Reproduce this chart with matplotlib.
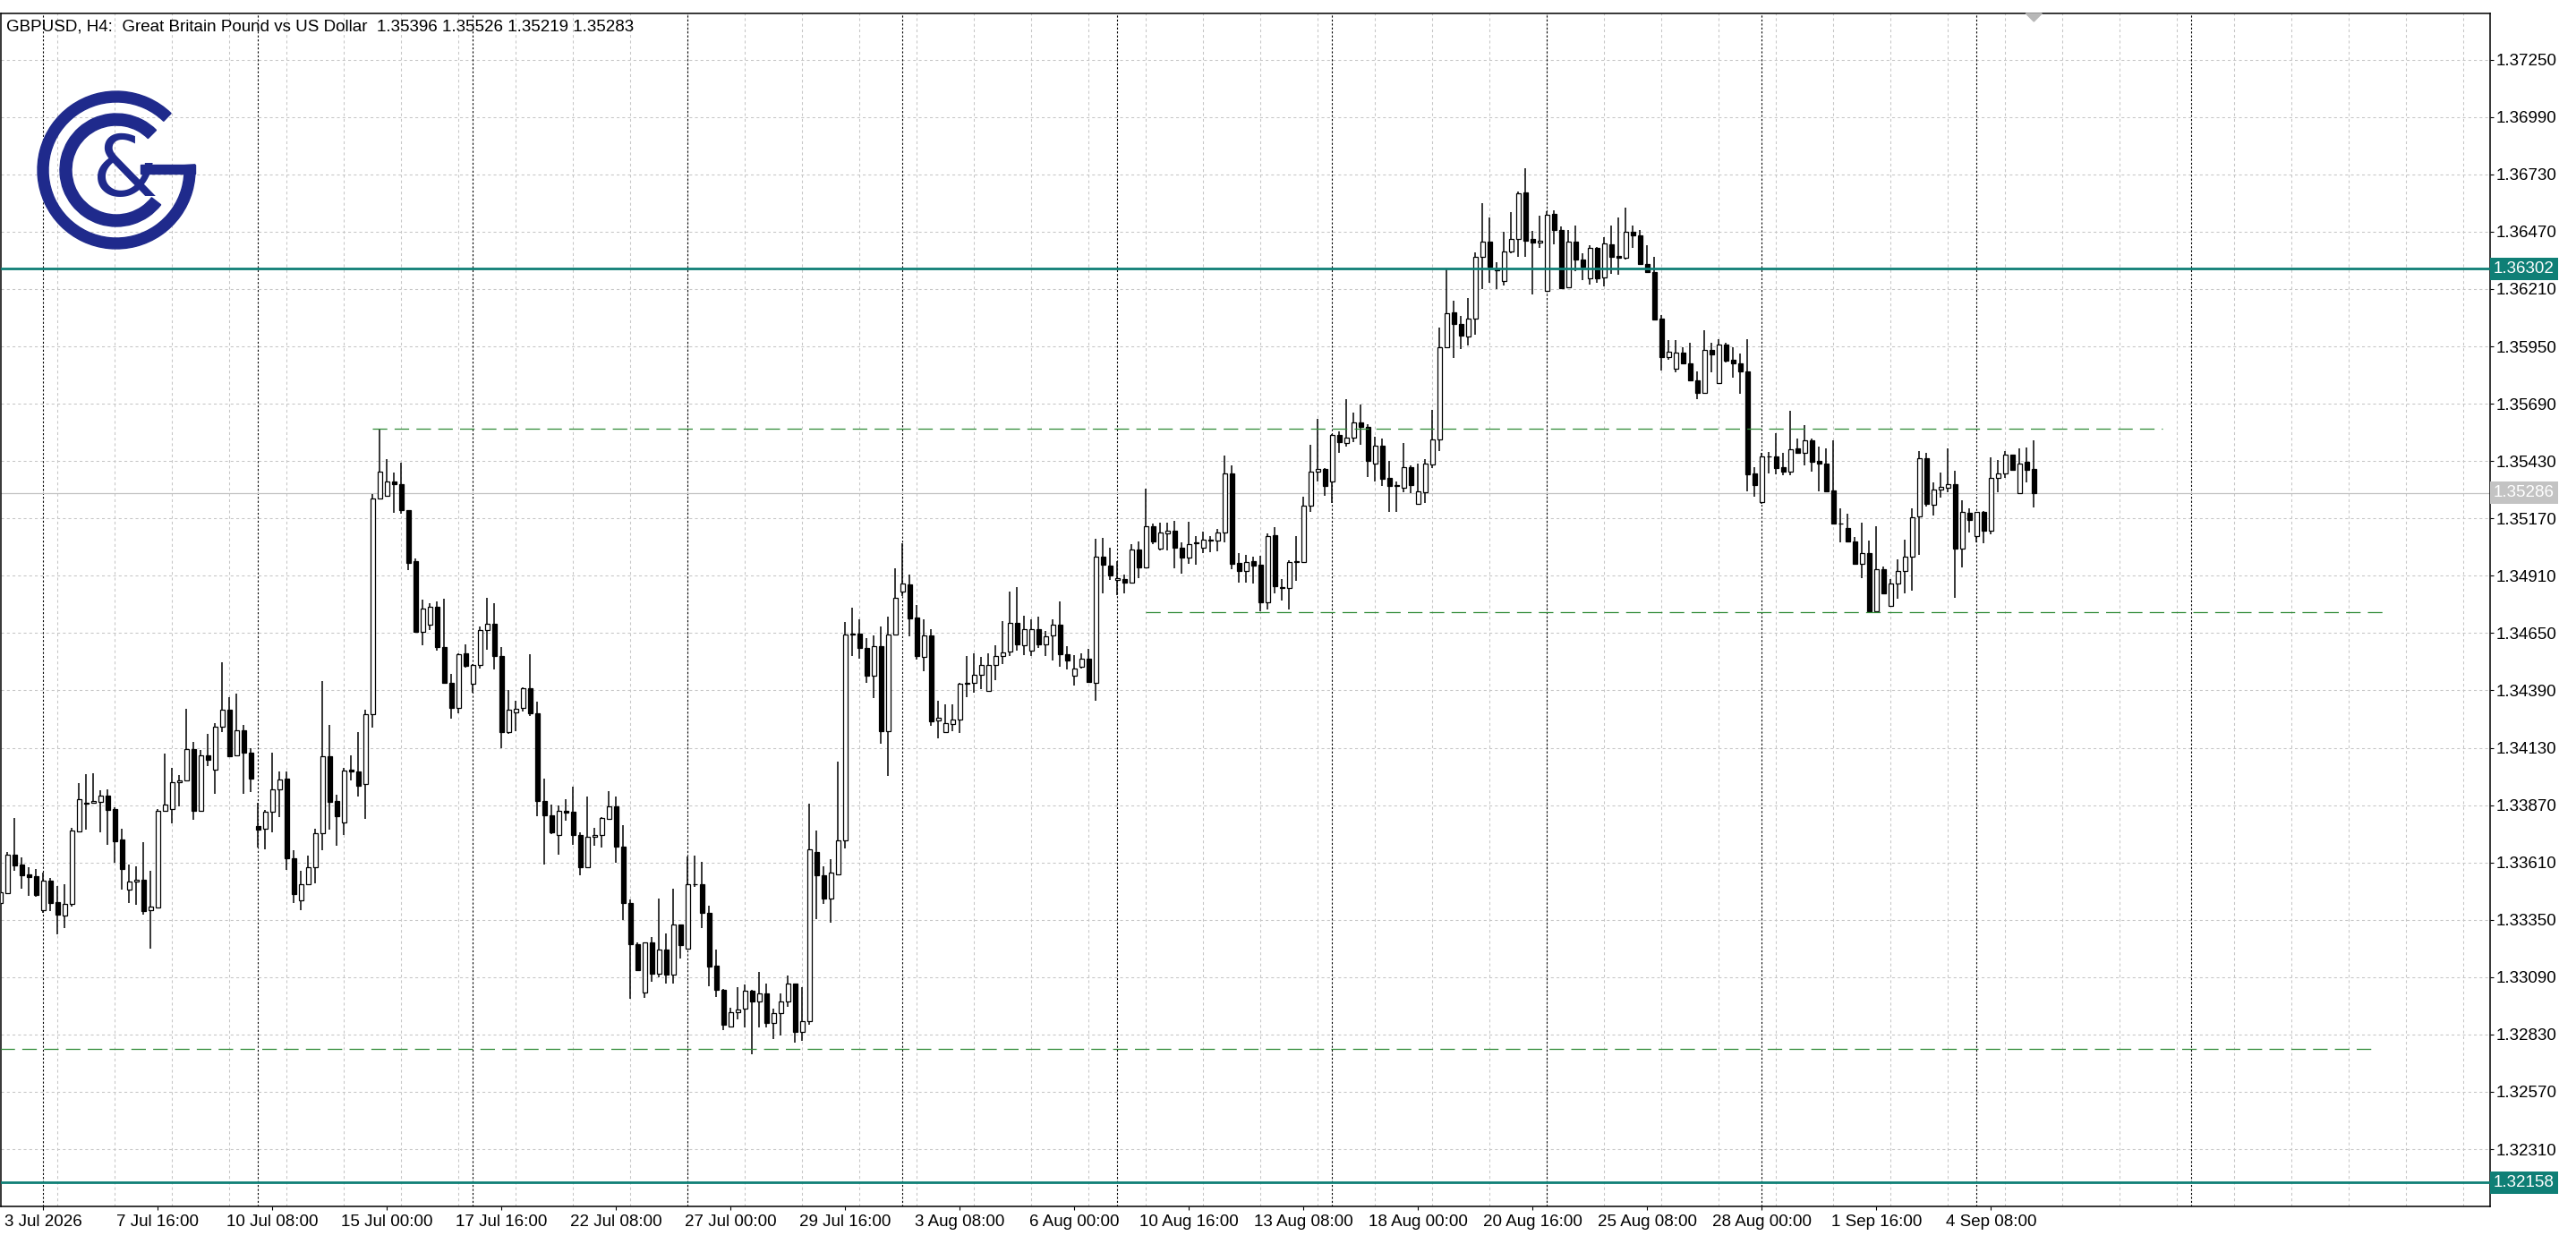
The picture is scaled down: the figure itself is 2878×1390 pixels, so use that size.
import numpy as np
import matplotlib
matplotlib.use("Agg")
import matplotlib.pyplot as plt
from matplotlib.patches import Wedge, Rectangle, Polygon

# GBPUSD H4 bars, first bar = 2 Jul 2026 00:00 (bar index -6)
first_bar = -6

open_ = [
    1.33424, 1.33472, 1.33645, 1.33600, 1.33555, 1.33547,  # -6..-1
    1.33394, 1.33527, 1.33430, 1.33370, 1.33420, 1.33752, 1.33879, 1.33879, 1.33886, 1.33913,  # 0-9
    1.33852, 1.33714, 1.33488, 1.33522, 1.33531, 1.33392, 1.33404, 1.33842, 1.33854, 1.33972,
    1.33984, 1.34122, 1.33842, 1.34094, 1.34031, 1.34225, 1.34302, 1.34096, 1.34209, 1.34108,
    1.33775, 1.33762, 1.33840, 1.33941, 1.33990, 1.33630, 1.33439, 1.33511, 1.33588, 1.33742,
    1.34093, 1.33889, 1.33793, 1.34031, 1.34023, 1.33964, 1.34282, 1.35260, 1.35273, 1.35338,
    1.35325, 1.35209, 1.34976, 1.34657, 1.34687, 1.34768, 1.34585, 1.34423, 1.34312, 1.34558,
    1.34419, 1.34504, 1.34662, 1.34691, 1.34545, 1.34200, 1.34291, 1.34311, 1.34399, 1.34285,
    1.33887, 1.33822, 1.33734, 1.33846, 1.33840, 1.33734, 1.33588, 1.33726, 1.33734, 1.33806,
    1.33865, 1.33683, 1.33427, 1.33241, 1.33022, 1.33247, 1.33106, 1.33215, 1.33100, 1.33328,
    1.33218, 1.33511, 1.33511, 1.33380, 1.33141, 1.33033, 1.32867, 1.32931, 1.32948, 1.33029,
    1.32979, 1.33018, 1.32883, 1.32927, 1.32981, 1.33062, 1.32842, 1.32891, 1.33657, 1.33553,
    1.33445, 1.33557, 1.33711, 1.34648, 1.34647, 1.34582, 1.34458, 1.34589, 1.34204, 1.34643,
    1.34840, 1.34870, 1.34721, 1.34541, 1.34640, 1.34252, 1.34201, 1.34239, 1.34258, 1.34426,
    1.34426, 1.34460, 1.34387, 1.34505, 1.34545, 1.34566, 1.34697, 1.34593, 1.34572, 1.34667,
    1.34599, 1.34640, 1.34690, 1.34556, 1.34458, 1.34498, 1.34535, 1.34424, 1.34998, 1.34957,
    1.34890, 1.34897, 1.34880, 1.35031, 1.34946, 1.35133, 1.35035, 1.35104, 1.35113, 1.35038,
    1.34991, 1.35061, 1.35036, 1.35072, 1.35068, 1.35106, 1.35372, 1.34967, 1.34930, 1.34978,
    1.34958, 1.34789, 1.35093, 1.34857, 1.34853, 1.34971, 1.34974, 1.35228, 1.35384, 1.35394,
    1.35339, 1.35550, 1.35512, 1.35536, 1.35606, 1.35586, 1.35420, 1.35501, 1.35352, 1.35323,
    1.35309, 1.35404, 1.35235, 1.35289, 1.35415, 1.35529, 1.35947, 1.36106, 1.36053, 1.35994,
    1.36075, 1.36354, 1.36425, 1.36300, 1.36246, 1.36379, 1.36436, 1.36648, 1.36436, 1.36422,
    1.36203, 1.36550, 1.36476, 1.36217, 1.36426, 1.36345, 1.36257, 1.36395, 1.36264, 1.36413,
    1.36359, 1.36350, 1.36469, 1.36452, 1.36325, 1.36287, 1.36074, 1.35901, 1.35849, 1.35922,
    1.35874, 1.35797, 1.35741, 1.35935, 1.35784, 1.35960, 1.35888, 1.35874, 1.35838, 1.35372,
    1.35246, 1.35449, 1.35449, 1.35403, 1.35383, 1.35487, 1.35469, 1.35523, 1.35429, 1.35417,
    1.35295, 1.35146, 1.35126, 1.35064, 1.34964, 1.35011, 1.34748, 1.34941, 1.34772, 1.34876,
    1.34932, 1.34998, 1.35180, 1.35441, 1.35230, 1.35299, 1.35311, 1.35325, 1.35034, 1.35194,
    1.35088, 1.35198, 1.35115, 1.35352, 1.35372, 1.35461, 1.35286, 1.35426, 1.35396,  # 270-278
]

high = [
    1.33482, 1.33658, 1.33811, 1.33635, 1.33587, 1.33580,
    1.33564, 1.33539, 1.33503, 1.33513, 1.33766, 1.33969, 1.34009, 1.34014, 1.33936, 1.33940,
    1.33861, 1.33762, 1.33600, 1.33592, 1.33702, 1.33573, 1.33854, 1.34103, 1.34038, 1.34006,
    1.34306, 1.34156, 1.34118, 1.34193, 1.34243, 1.34518, 1.34360, 1.34375, 1.34233, 1.34127,
    1.33879, 1.33848, 1.34109, 1.34023, 1.34023, 1.33666, 1.33573, 1.33643, 1.33762, 1.34433,
    1.34233, 1.33918, 1.34037, 1.34096, 1.34201, 1.34301, 1.35280, 1.35578, 1.35439, 1.35377,
    1.35423, 1.35209, 1.34990, 1.34801, 1.34785, 1.34792, 1.34804, 1.34464, 1.34558, 1.34599,
    1.34511, 1.34680, 1.34808, 1.34785, 1.34585, 1.34393, 1.34345, 1.34405, 1.34554, 1.34338,
    1.33991, 1.33873, 1.33869, 1.33896, 1.33954, 1.33745, 1.33910, 1.33765, 1.33815, 1.33934,
    1.33910, 1.33778, 1.33443, 1.33249, 1.33249, 1.33272, 1.33447, 1.33289, 1.33491, 1.33328,
    1.33639, 1.33640, 1.33612, 1.33414, 1.33215, 1.33036, 1.32952, 1.33046, 1.33058, 1.33032,
    1.33114, 1.33062, 1.32948, 1.33018, 1.33096, 1.33062, 1.33045, 1.33875, 1.33754, 1.33593,
    1.33626, 1.34066, 1.34701, 1.34764, 1.34711, 1.34626, 1.34640, 1.34680, 1.34725, 1.34944,
    1.35056, 1.34914, 1.34778, 1.34711, 1.34667, 1.34345, 1.34327, 1.34327, 1.34424, 1.34545,
    1.34559, 1.34541, 1.34559, 1.34595, 1.34705, 1.34838, 1.34859, 1.34728, 1.34711, 1.34725,
    1.34660, 1.34714, 1.34793, 1.34590, 1.34552, 1.34559, 1.34579, 1.35079, 1.35083, 1.35036,
    1.34975, 1.34914, 1.35052, 1.35065, 1.35304, 1.35146, 1.35150, 1.35149, 1.35157, 1.35061,
    1.35153, 1.35088, 1.35110, 1.35088, 1.35122, 1.35454, 1.35410, 1.35011, 1.35005, 1.34996,
    1.34999, 1.35100, 1.35130, 1.34895, 1.34981, 1.35089, 1.35269, 1.35505, 1.35623, 1.35397,
    1.35552, 1.35566, 1.35712, 1.35651, 1.35687, 1.35596, 1.35541, 1.35534, 1.35431, 1.35336,
    1.35512, 1.35410, 1.35417, 1.35437, 1.35664, 1.36034, 1.36299, 1.36157, 1.36088, 1.36169,
    1.36375, 1.36600, 1.36533, 1.36330, 1.36469, 1.36560, 1.36654, 1.36757, 1.36473, 1.36541,
    1.36561, 1.36567, 1.36492, 1.36476, 1.36496, 1.36372, 1.36409, 1.36402, 1.36445, 1.36496,
    1.36533, 1.36580, 1.36500, 1.36476, 1.36409, 1.36355, 1.36091, 1.35980, 1.35980, 1.35946,
    1.35966, 1.35838, 1.36023, 1.35966, 1.35984, 1.35966, 1.35946, 1.35919, 1.35984, 1.35402,
    1.35467, 1.35471, 1.35558, 1.35467, 1.35656, 1.35534, 1.35595, 1.35534, 1.35496, 1.35487,
    1.35523, 1.35214, 1.35190, 1.35084, 1.35149, 1.35071, 1.35133, 1.34951, 1.34894, 1.34984,
    1.35072, 1.35214, 1.35477, 1.35466, 1.35333, 1.35376, 1.35487, 1.35385, 1.35252, 1.35214,
    1.35200, 1.35204, 1.35446, 1.35434, 1.35475, 1.35461, 1.35487, 1.35493, 1.35526,
]

low = [
    1.33408, 1.33465, 1.33573, 1.33492, 1.33459, 1.33455,
    1.33381, 1.33390, 1.33286, 1.33311, 1.33411, 1.33749, 1.33760, 1.33876, 1.33746, 1.33691,
    1.33608, 1.33486, 1.33426, 1.33419, 1.33374, 1.33220, 1.33401, 1.33839, 1.33787, 1.33865,
    1.33981, 1.33804, 1.33839, 1.34048, 1.33921, 1.34200, 1.34088, 1.34091, 1.33921, 1.33930,
    1.33677, 1.33669, 1.33747, 1.33817, 1.33576, 1.33425, 1.33394, 1.33506, 1.33514, 1.33666,
    1.33758, 1.33685, 1.33736, 1.33984, 1.33910, 1.33806, 1.34220, 1.35257, 1.35268, 1.35195,
    1.35190, 1.34934, 1.34650, 1.34596, 1.34662, 1.34569, 1.34419, 1.34264, 1.34285, 1.34493,
    1.34380, 1.34488, 1.34576, 1.34484, 1.34129, 1.34194, 1.34207, 1.34295, 1.34275, 1.33819,
    1.33602, 1.33737, 1.33646, 1.33798, 1.33691, 1.33552, 1.33586, 1.33687, 1.33678, 1.33802,
    1.33609, 1.33349, 1.32991, 1.33119, 1.32995, 1.33069, 1.33089, 1.33062, 1.33062, 1.33173,
    1.33218, 1.33501, 1.33312, 1.33049, 1.32999, 1.32850, 1.32863, 1.32900, 1.32860, 1.32742,
    1.32863, 1.32863, 1.32810, 1.32826, 1.32955, 1.32792, 1.32803, 1.32873, 1.33353, 1.33420,
    1.33335, 1.33553, 1.33672, 1.34545, 1.34532, 1.34424, 1.34354, 1.34150, 1.34001, 1.34643,
    1.34818, 1.34637, 1.34528, 1.34478, 1.34228, 1.34174, 1.34197, 1.34205, 1.34198, 1.34360,
    1.34379, 1.34397, 1.34386, 1.34437, 1.34508, 1.34548, 1.34570, 1.34552, 1.34545, 1.34582,
    1.34548, 1.34525, 1.34498, 1.34485, 1.34413, 1.34489, 1.34427, 1.34343, 1.34829, 1.34892,
    1.34822, 1.34829, 1.34874, 1.34901, 1.34944, 1.35052, 1.35024, 1.35025, 1.34944, 1.34920,
    1.34964, 1.34960, 1.35014, 1.35018, 1.35022, 1.35063, 1.34941, 1.34879, 1.34880, 1.34873,
    1.34749, 1.34758, 1.34832, 1.34799, 1.34756, 1.34887, 1.34974, 1.35201, 1.35339, 1.35273,
    1.35238, 1.35467, 1.35496, 1.35516, 1.35505, 1.35359, 1.35336, 1.35316, 1.35201, 1.35201,
    1.35289, 1.35286, 1.35232, 1.35238, 1.35397, 1.35475, 1.35947, 1.35897, 1.35936, 1.35953,
    1.36001, 1.36209, 1.36240, 1.36209, 1.36226, 1.36371, 1.36357, 1.36354, 1.36186, 1.36398,
    1.36203, 1.36413, 1.36215, 1.36217, 1.36291, 1.36249, 1.36229, 1.36240, 1.36224, 1.36280,
    1.36273, 1.36344, 1.36398, 1.36321, 1.36284, 1.36071, 1.35839, 1.35888, 1.35831, 1.35868,
    1.35795, 1.35710, 1.35734, 1.35834, 1.35784, 1.35876, 1.35807, 1.35737, 1.35291, 1.35267,
    1.35237, 1.35372, 1.35368, 1.35365, 1.35365, 1.35463, 1.35410, 1.35383, 1.35291, 1.35291,
    1.35146, 1.35061, 1.35065, 1.34964, 1.34899, 1.34748, 1.34745, 1.34826, 1.34772, 1.34806,
    1.34832, 1.34842, 1.35005, 1.35225, 1.35183, 1.35264, 1.35288, 1.34811, 1.34948, 1.35106,
    1.35061, 1.35056, 1.35099, 1.35288, 1.35353, 1.35389, 1.35286, 1.35333, 1.35219,
]

close = [
    1.33473, 1.33645, 1.33597, 1.33553, 1.33545, 1.33462,
    1.33526, 1.33427, 1.33374, 1.33421, 1.33753, 1.33895, 1.33875, 1.33888, 1.33913, 1.33849,
    1.33707, 1.33581, 1.33522, 1.33530, 1.33390, 1.33408, 1.33846, 1.33871, 1.33973, 1.33984,
    1.34122, 1.33845, 1.34094, 1.34076, 1.34225, 1.34302, 1.34093, 1.34209, 1.34108, 1.33992,
    1.33758, 1.33840, 1.33941, 1.33987, 1.33627, 1.33467, 1.33511, 1.33588, 1.33742, 1.34093,
    1.33886, 1.33821, 1.34026, 1.34021, 1.33956, 1.34282, 1.35260, 1.35384, 1.35338, 1.35325,
    1.35206, 1.34970, 1.34657, 1.34761, 1.34768, 1.34585, 1.34426, 1.34312, 1.34554, 1.34502,
    1.34504, 1.34662, 1.34691, 1.34545, 1.34200, 1.34304, 1.34308, 1.34399, 1.34285, 1.33887,
    1.33822, 1.33745, 1.33846, 1.33836, 1.33734, 1.33588, 1.33726, 1.33734, 1.33812, 1.33865,
    1.33680, 1.33426, 1.33238, 1.33121, 1.33247, 1.33106, 1.33215, 1.33100, 1.33328, 1.33234,
    1.33511, 1.33511, 1.33380, 1.33137, 1.33033, 1.32873, 1.32931, 1.32944, 1.33029, 1.32979,
    1.33018, 1.32884, 1.32927, 1.32981, 1.33062, 1.32842, 1.32891, 1.33670, 1.33551, 1.33445,
    1.33562, 1.33711, 1.34643, 1.34643, 1.34582, 1.34458, 1.34589, 1.34204, 1.34643, 1.34809,
    1.34874, 1.34718, 1.34545, 1.34640, 1.34248, 1.34266, 1.34242, 1.34258, 1.34421, 1.34420,
    1.34460, 1.34505, 1.34505, 1.34545, 1.34562, 1.34697, 1.34597, 1.34667, 1.34667, 1.34597,
    1.34637, 1.34690, 1.34556, 1.34525, 1.34491, 1.34532, 1.34428, 1.34998, 1.34960, 1.34910,
    1.34901, 1.34880, 1.35031, 1.34946, 1.35133, 1.35065, 1.35106, 1.35113, 1.35038, 1.34991,
    1.35052, 1.35056, 1.35072, 1.35068, 1.35106, 1.35372, 1.34964, 1.34933, 1.34971, 1.34954,
    1.34789, 1.35089, 1.34861, 1.34853, 1.34974, 1.34976, 1.35228, 1.35384, 1.35393, 1.35319,
    1.35548, 1.35515, 1.35536, 1.35606, 1.35586, 1.35431, 1.35501, 1.35350, 1.35319, 1.35316,
    1.35404, 1.35323, 1.35292, 1.35417, 1.35529, 1.35947, 1.36099, 1.36052, 1.35997, 1.36075,
    1.36354, 1.36425, 1.36311, 1.36294, 1.36379, 1.36436, 1.36645, 1.36429, 1.36422, 1.36431,
    1.36546, 1.36476, 1.36215, 1.36426, 1.36345, 1.36311, 1.36395, 1.36260, 1.36415, 1.36357,
    1.36350, 1.36469, 1.36452, 1.36325, 1.36287, 1.36071, 1.35902, 1.35926, 1.35922, 1.35872,
    1.35795, 1.35741, 1.35935, 1.35912, 1.35960, 1.35885, 1.35872, 1.35835, 1.35369, 1.35321,
    1.35449, 1.35449, 1.35399, 1.35383, 1.35484, 1.35467, 1.35523, 1.35426, 1.35419, 1.35291,
    1.35146, 1.35146, 1.35065, 1.34964, 1.35011, 1.34748, 1.34940, 1.34829, 1.34876, 1.34932,
    1.34995, 1.35177, 1.35441, 1.35237, 1.35299, 1.35315, 1.35325, 1.35034, 1.35198, 1.35163,
    1.35198, 1.35115, 1.35352, 1.35372, 1.35461, 1.35389, 1.35420, 1.35392, 1.35283,
]

# time axis labels, one every 16 bars starting at bar 0 (3 Jul 00:00)
time_labels = ['3 Jul 2026', '7 Jul 16:00', '10 Jul 08:00', '15 Jul 00:00', '17 Jul 16:00',
               '22 Jul 08:00', '27 Jul 00:00', '29 Jul 16:00', '3 Aug 08:00', '6 Aug 00:00',
               '10 Aug 16:00', '13 Aug 08:00', '18 Aug 00:00', '20 Aug 16:00', '25 Aug 08:00',
               '28 Aug 00:00', '1 Sep 16:00', '4 Sep 08:00']
label_step = 16

# price scale
price_ticks = [1.32310 + 0.0026 * k for k in range(20)]

# horizontal levels
teal_levels = [1.36302, 1.32158]
bid_price = 1.35286
# dashed levels: (price, first bar, last bar)
dashed_levels = [(1.35578, 46, 296), (1.34746, 154, 327), (1.32766, -6, 326)]

title = "GBPUSD, H4:  Great Britain Pound vs US Dollar  1.35396 1.35526 1.35219 1.35283"

TEAL = '#0f7f76'
NAVY = '#1f2a8c'
GRID = '#c6c6c6'
GREEN = '#2f8a36'
FS = 13.5

W, H = 2878, 1390
fig = plt.figure(figsize=(W / 100, H / 100), dpi=100)
fig.patch.set_facecolor('white')
ax = fig.add_axes([1 / W, (H - 1348) / H, 2781 / W, (1348 - 15) / H])

n = len(close)
x = np.arange(first_bar, first_bar + n)
o = np.array(open_); c = np.array(close); hi = np.array(high); lo = np.array(low)

ax.set_xlim((1 - 48.3) / 8.0, (2782 - 48.3) / 8.0)
ax.set_ylim(1.320503, 1.374598)

# grid (pixel grid like the terminal)
for p in price_ticks:
    ax.axhline(p, color=GRID, lw=0.75, ls=(0, (3, 3)), zorder=0.5)
for b in range(2, 342, 8):
    ax.axvline(b, color=GRID, lw=0.75, ls=(0, (3, 3)), zorder=0.5)
for b in range(0, 301, 30):
    ax.axvline(b, color='black', lw=0.8, ls=(0, (2, 2)), zorder=0.6)

# candles
ax.vlines(x, lo, hi, color='black', lw=1.1, zorder=2)
up = c >= o
body_lo = np.minimum(o, c)
body_h = np.maximum(np.abs(c - o), 0.00002)
ax.bar(x[up], body_h[up], bottom=body_lo[up], width=0.64, color='white',
       edgecolor='black', linewidth=0.9, zorder=3)
ax.bar(x[~up], body_h[~up], bottom=body_lo[~up], width=0.64, color='black',
       edgecolor='black', linewidth=0.9, zorder=3)

# levels
for lvl in teal_levels:
    ax.axhline(lvl, color=TEAL, lw=2.0, zorder=4)
ax.axhline(bid_price, color='#c3c3c3', lw=0.9, zorder=1)
for p, b0, b1 in dashed_levels:
    ax.plot([max(b0, -6), b1], [p, p], color=GREEN, lw=0.9, ls=(0, (13, 6.5)), zorder=4)

# axes styling
for s in ax.spines.values():
    s.set_color('black')
    s.set_linewidth(1.1)
ax.yaxis.tick_right()
ax.set_yticks(price_ticks)
ax.set_yticklabels([f"{p:.5f}" for p in price_ticks])
ax.set_xticks([label_step * k for k in range(len(time_labels))])
ax.set_xticklabels(time_labels)
ax.tick_params(axis='y', which='both', length=3, width=0.8, pad=2, labelsize=FS,
               right=True, left=False)
ax.tick_params(axis='x', length=3, width=0.8, pad=3.5, labelsize=FS)
for lab in ax.get_xticklabels() + ax.get_yticklabels():
    lab.set_fontfamily('Liberation Sans')

# price boxes on the scale
def price_box(p, fc):
    ax.annotate(f"{p:.5f}", xy=(1.0, p), xycoords=('axes fraction', 'data'),
                xytext=(4, 0), textcoords='offset pixels', ha='left', va='center',
                fontsize=FS, family='Liberation Sans', color='white',
                bbox=dict(boxstyle='square,pad=0.2', fc=fc, ec='none'),
                annotation_clip=False, zorder=6)

for lvl in teal_levels:
    price_box(lvl, TEAL)
price_box(bid_price, '#c3c3c3')

# overlay in pixel coordinates for title, logo and shift marker
ov = fig.add_axes([0, 0, 1, 1], facecolor='none')
ov.set_xlim(0, W)
ov.set_ylim(H, 0)
ov.axis('off')

ov.text(7, 30, title, fontsize=FS, family='Liberation Sans', va='center', ha='left')

cx, cy = 130, 190
ov.add_patch(Wedge((cx, cy), 88, -4, 314, width=12, color=NAVY))
ov.add_patch(Rectangle((157, 184), 61, 10, color=NAVY))
ov.add_patch(Wedge((cx, cy), 63, 38, 315, width=13, color=NAVY))
ov.text(140, 193, '&', fontsize=68, color=NAVY, ha='center', va='center',
        family='DejaVu Sans')

bar_px = 48.3 + 8.0 * x[-1]
ov.add_patch(Polygon([[bar_px - 9, 15], [bar_px + 9, 15], [bar_px, 24]],
                     closed=True, color='#b8b8b8'))

fig.savefig('out.png', dpi=100, facecolor='white')
